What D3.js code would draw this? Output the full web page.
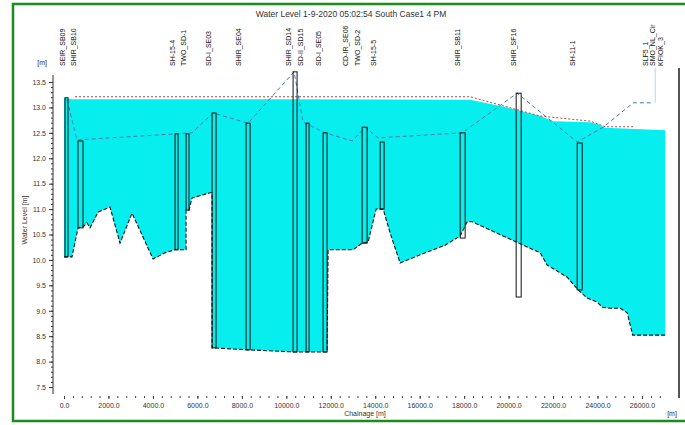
<!DOCTYPE html>
<html>
<head>
<meta charset="utf-8">
<script src="https://cdnjs.cloudflare.com/ajax/libs/d3/7.8.5/d3.min.js"></script>
<style>
    html, body { margin: 0; padding: 0; background: #fff; }
    svg { display: block; font-family: "Liberation Sans", Arial, sans-serif; }
</style>
</head>
<body>
<div id="chart"></div>
<script>
// ---- data (chainage in m, level in m) ----
var xTickValues = [0, 2000, 4000, 6000, 8000, 10000, 12000, 14000, 16000, 18000, 20000, 22000, 24000, 26000];
var yTickValues = [7.5, 8.0, 8.5, 9.0, 9.5, 10.0, 10.5, 11.0, 11.5, 12.0, 12.5, 13.0, 13.5];

var waterLevel = [
    [0, 13.19], [360, 13.16], [9000, 13.16], [18270, 13.15], [19845, 13.01],
    [21420, 12.83], [22005, 12.73], [23670, 12.71], [24030, 12.67], [24345, 12.60],
    [27045, 12.55]
];

var maxLevel = [
    [495, 13.21], [18270, 13.21], [21420, 12.83], [23670, 12.73], [24345, 12.62], [25695, 12.62]
];

var bankLevel = [
    [135, 13.15], [585, 12.36], [5760, 12.50], [6705, 12.89], [8280, 12.69],
    [10350, 13.70], [10755, 12.71], [11745, 12.50], [12960, 12.34], [13545, 12.61],
    [14130, 12.40], [17910, 12.50], [20385, 13.28], [23085, 12.32], [24255, 12.61],
    [25605, 13.09], [26505, 13.09]
];

var leaderLine = [[26595, 13.09], [26595, 13.78]];

var bedLevel = [
    [0, 10.06], [360, 10.06], [630, 10.63], [855, 10.65], [1035, 10.73], [1170, 10.63],
    [1530, 10.94], [2070, 11.04], [2520, 10.33], [3060, 10.92], [4005, 10.02], [4545, 10.14],
    [4995, 10.20], [5490, 10.20], [5490, 10.98], [5625, 10.98], [5760, 11.22], [6570, 11.32],
    [6660, 11.32], [6660, 8.27], [8370, 8.23], [10305, 8.19], [11835, 8.19], [11880, 10.20],
    [13005, 10.20], [13410, 10.33], [13680, 10.35], [14040, 11.00], [14355, 11.00],
    [14670, 10.53], [15120, 9.94], [16020, 10.10], [17145, 10.29], [17820, 10.47],
    [18135, 10.75], [18360, 10.75], [20655, 10.29], [21420, 10.14], [21735, 9.90],
    [22635, 9.66], [23130, 9.41], [23535, 9.25], [23985, 9.17], [24210, 9.07],
    [24570, 9.05], [25020, 9.05], [25335, 8.96], [25560, 8.56], [25580, 8.52], [27045, 8.52]
];

// structures: [from chainage, to chainage, top level, bottom level]
var structures = [
    [45, 180, 13.19, 10.06], [630, 855, 12.34, 10.63], [4995, 5130, 12.48, 10.20],
    [5490, 5625, 12.48, 10.98], [6660, 6840, 12.89, 8.27], [8190, 8370, 12.69, 8.23],
    [10305, 10485, 13.70, 8.19], [10890, 11025, 12.69, 8.19], [11655, 11835, 12.50, 8.19],
    [13410, 13635, 12.61, 10.33], [14220, 14400, 12.32, 11.00], [17820, 18045, 12.50, 10.43],
    [20340, 20565, 13.28, 9.27], [23085, 23310, 12.30, 9.41]
];

var sectionChainage = [0, 495, 4950, 5445, 6570, 7920, 10170, 10710, 11520, 12735, 13275,
    13995, 17775, 20295, 22950, 26235, 26550, 26910];
var sectionNames = ['SEIR_SB09', 'SHIR_SB10', 'SH-15-4', 'TWO_SD-1', 'SD-I_SE03', 'SHIR_SE04',
    'SHIR_SD14', 'SD-II_SD15', 'SD-I_SE05', 'CD-IR_SE06', 'TWO_SD-2', 'SH-15-5',
    'SHIR_SB11', 'SHIR_SF16', 'SH-11-1', 'SLF5_1', 'SMO_NL_Cir', 'KFIOK_3'];

var chartTitle = 'Water Level   1-9-2020 05:02:54 South Case1 4 PM';

// ---- drawing ----
var width = 685, height = 425;

var svg = d3.select('#chart')
    .append('svg')
    .attr('width', width)
    .attr('height', height);

var x = d3.scaleLinear().domain([0, 26000]).range([64, 642]);
var y = d3.scaleLinear().domain([7.5, 13.5]).range([387, 82]);

var line = d3.line()
    .x(function(d) { return x(d[0]); })
    .y(function(d) { return y(d[1]); });

// green frame
svg.append('rect')
    .attr('x', 13).attr('y', 4)
    .attr('width', 690).attr('height', 417)
    .attr('fill', 'none')
    .attr('stroke', '#1c8c1c')
    .attr('stroke-width', 2.5);

// title
svg.append('text')
    .attr('x', 351).attr('y', 17)
    .attr('text-anchor', 'middle')
    .attr('font-size', 8.5)
    .attr('fill', '#333')
    .text(chartTitle);

// water body between water surface and bed
var poly = waterLevel.concat(bedLevel.slice().reverse());
svg.append('path')
    .attr('d', line(poly) + 'Z')
    .attr('fill', '#06eeee')
    .attr('stroke', 'none');

// bed level
svg.append('path')
    .attr('d', line(bedLevel))
    .attr('fill', 'none')
    .attr('stroke', '#111')
    .attr('stroke-width', 1.1)
    .attr('stroke-dasharray', '4,2');

// max level (red dotted)
svg.append('path')
    .attr('d', line(maxLevel))
    .attr('fill', 'none')
    .attr('stroke', '#b84848')
    .attr('stroke-width', 1)
    .attr('stroke-dasharray', '2,2');

// bank level (blue dashed)
svg.append('path')
    .attr('d', line(bankLevel))
    .attr('fill', 'none')
    .attr('stroke', '#4a78b0')
    .attr('stroke-width', 1)
    .attr('stroke-dasharray', '4,3');

svg.append('path')
    .attr('d', line(leaderLine))
    .attr('fill', 'none')
    .attr('stroke', '#a8dede')
    .attr('stroke-width', 1);

// structures
svg.append('g')
    .selectAll('rect')
    .data(structures)
    .enter().append('rect')
    .attr('x', function(d) { return x(d[0]); })
    .attr('y', function(d) { return y(d[2]); })
    .attr('width', function(d) { return x(d[1]) - x(d[0]); })
    .attr('height', function(d) { return y(d[3]) - y(d[2]); })
    .attr('fill', 'none')
    .attr('stroke', '#111')
    .attr('stroke-width', 1);

// section names along the top
svg.append('g')
    .selectAll('text')
    .data(sectionNames)
    .enter().append('text')
    .attr('transform', function(d, i) {
        return 'translate(' + (x(sectionChainage[i]) + 1) + ',66) rotate(-90)';
    })
    .attr('font-size', 7)
    .attr('fill', '#111')
    .text(function(d) { return d; });

// y axis
var yAxis = svg.append('g')
    .attr('transform', 'translate(53,0)')
    .call(d3.axisLeft(y).tickValues(yTickValues).tickFormat(d3.format('.1f')).tickSize(4).tickPadding(3));
yAxis.select('.domain').remove();
yAxis.selectAll('text').attr('font-size', 7).attr('fill', '#333');
yAxis.selectAll('line').attr('stroke', '#333');

var yMinor = svg.append('g')
    .attr('transform', 'translate(53,0)')
    .call(d3.axisLeft(y).tickValues(d3.range(75, 136, 1).map(function(v) { return v / 10; })).tickFormat('').tickSize(2));
yMinor.select('.domain').remove();
yMinor.selectAll('line').attr('stroke', '#333');

svg.append('line')
    .attr('x1', 53).attr('x2', 53)
    .attr('y1', 75).attr('y2', 394)
    .attr('stroke', '#333');

svg.append('text')
    .attr('x', 47).attr('y', 65)
    .attr('text-anchor', 'end')
    .attr('font-size', 7)
    .attr('fill', '#333')
    .text('[m]');

svg.append('text')
    .attr('transform', 'translate(27,220) rotate(-90)')
    .attr('text-anchor', 'middle')
    .attr('font-size', 7)
    .attr('fill', '#333')
    .text('Water Level [m]');

// x axis
var xAxis = svg.append('g')
    .attr('transform', 'translate(0,396)')
    .call(d3.axisBottom(x).tickValues(xTickValues).tickFormat(d3.format('.1f')).tickSize(3).tickPadding(4));
xAxis.select('.domain').remove();
xAxis.selectAll('text').attr('font-size', 7).attr('fill', '#333');
xAxis.selectAll('line').attr('stroke', '#444');

var xMinor = svg.append('g')
    .attr('transform', 'translate(0,396)')
    .call(d3.axisBottom(x).tickValues(d3.range(0, 27001, 400)).tickFormat('').tickSize(2));
xMinor.select('.domain').remove();
xMinor.selectAll('line').attr('stroke', '#444');

svg.append('text')
    .attr('x', 365).attr('y', 416)
    .attr('text-anchor', 'middle')
    .attr('font-size', 7)
    .attr('fill', '#333')
    .text('Chainage [m]');

svg.append('text')
    .attr('x', 672).attr('y', 416)
    .attr('text-anchor', 'middle')
    .attr('font-size', 7)
    .attr('fill', '#333')
    .text('[m]');

// right border of the plot
svg.append('line')
    .attr('x1', 679).attr('x2', 679)
    .attr('y1', 68).attr('y2', 398)
    .attr('stroke', '#555')
    .attr('stroke-width', 2);
</script>
</body>
</html>
